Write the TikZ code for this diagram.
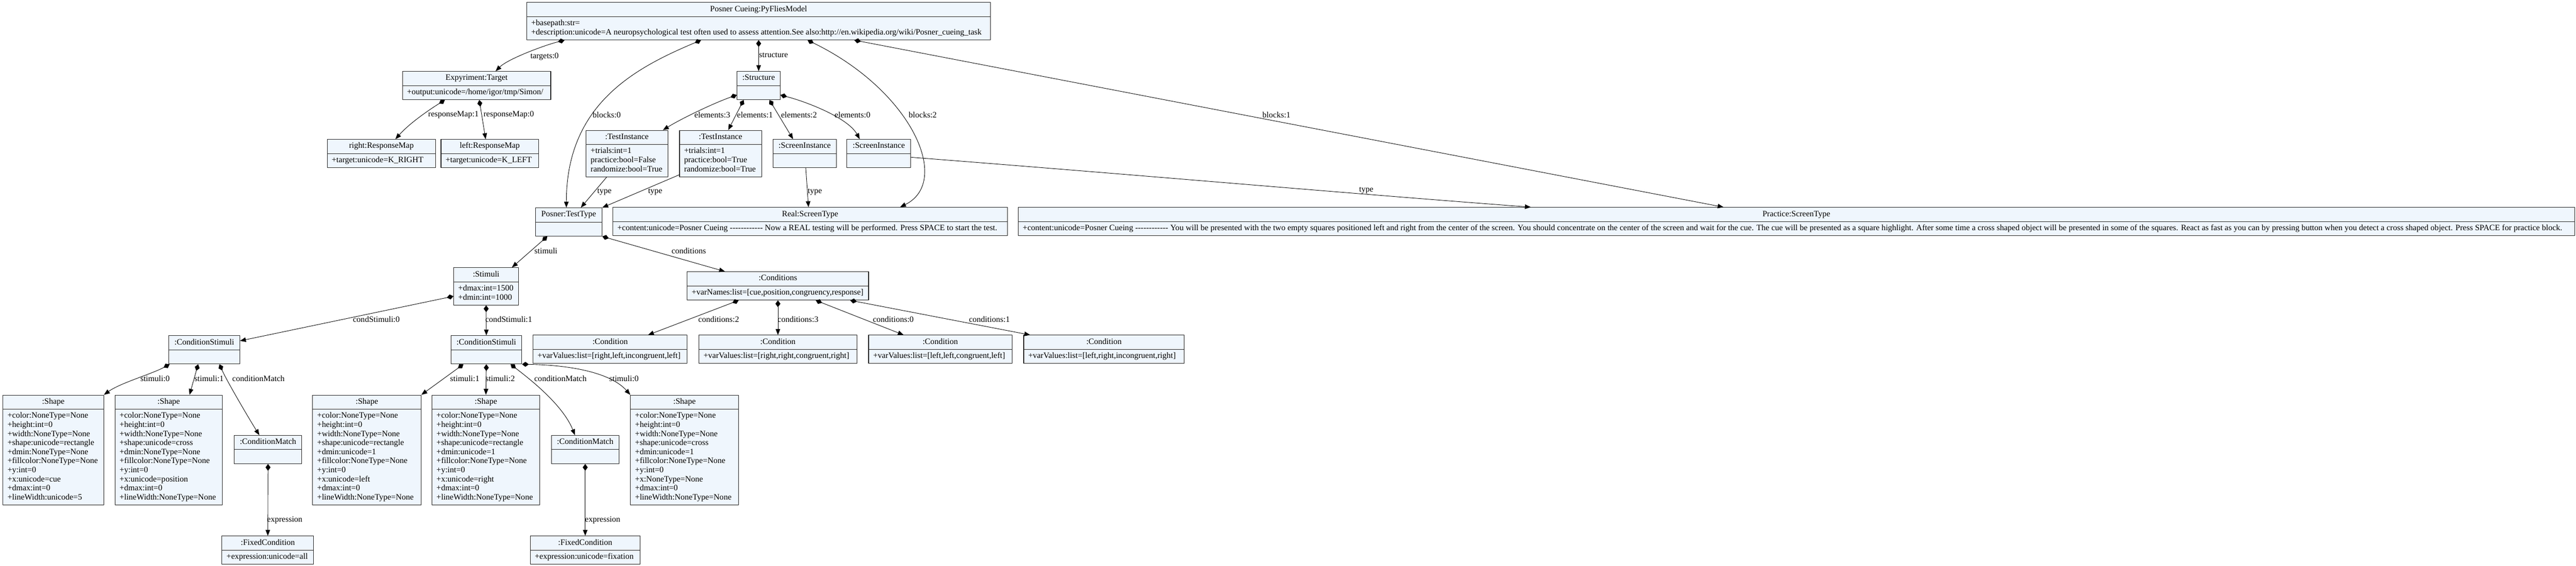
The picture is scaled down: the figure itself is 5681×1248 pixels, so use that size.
\documentclass[tikz,border=0pt]{standalone}
\usepackage{fontspec}
\setmainfont{Liberation Serif}
\usetikzlibrary{arrows.meta,shapes.multipart}
\definecolor{objfill}{HTML}{EFF6FD}
\definecolor{objline}{HTML}{222222}
\newcommand\dashrow{-{}-{}-{}-{}-{}-{}-{}-{}-{}-{}-{}-}
\tikzset{
  umlobj/.style={rectangle split, rectangle split parts=2,
    rectangle split ignore empty parts=false,
    rectangle split part align={center,left},
    draw=objline, fill=objfill, line width=1.2pt,
    inner xsep=10pt, inner ysep=5pt, align=left, anchor=north west},
  comp/.style={arrows={{Diamond[length=15pt,width=11pt]}->}},
  lbl/.style={inner sep=0pt},
}
\begin{document}
\begin{tikzpicture}[x=1pt,y=-1pt,>={Triangle[length=13pt,width=10pt]},line join=bevel,
  line width=1pt,font=\fontsize{18.2}{20}\selectfont]
\useasboundingbox (0,0) rectangle (5681,1248);
%%
  % Node: posner
  \node[umlobj,minimum width=1023pt] (posner) at (1161,5) {\strut Posner Cueing:PyFliesModel
    \nodepart{two}\strut+basepath:str=\\
    \strut+description:unicode=A neuropsychological test often used to assess attention.See also:http://en.wikipedia.org/wiki/Posner\_cueing\_task};
  % Node: target
  \node[umlobj,minimum width=327pt] (target) at (887,157) {\strut Expyriment:Target
    \nodepart{two}\strut+output:unicode=/home/igor/tmp/Simon/};
  % Node: rightmap
  \node[umlobj,minimum width=239pt] (rightmap) at (721,307) {\strut right:ResponseMap
    \nodepart{two}\strut+target:unicode=K\_RIGHT};
  % Node: leftmap
  \node[umlobj,minimum width=215pt] (leftmap) at (972,307) {\strut left:ResponseMap
    \nodepart{two}\strut+target:unicode=K\_LEFT};
  % Node: structure
  \node[umlobj,minimum width=95pt] (structure) at (1625,157) {\strut :Structure
    \nodepart{two}\strut};
  % Node: testinst1
  \node[umlobj,minimum width=180pt] (testinst1) at (1292,287) {\strut :TestInstance
    \nodepart{two}\strut+trials:int=1\\
    \strut practice:bool=False\\
    \strut randomize:bool=True};
  % Node: testinst2
  \node[umlobj,minimum width=181pt] (testinst2) at (1498,287) {\strut :TestInstance
    \nodepart{two}\strut+trials:int=1\\
    \strut practice:bool=True\\
    \strut randomize:bool=True};
  % Node: screeninst1
  \node[umlobj,minimum width=140pt] (screeninst1) at (1704,307) {\strut :ScreenInstance
    \nodepart{two}\strut};
  % Node: screeninst2
  \node[umlobj,minimum width=141pt] (screeninst2) at (1867,307) {\strut :ScreenInstance
    \nodepart{two}\strut};
  % Node: testtype
  \node[umlobj,minimum width=147pt] (testtype) at (1180,458) {\strut Posner:TestType
    \nodepart{two}\strut};
  % Node: realscreen
  \node[umlobj,minimum width=870pt] (realscreen) at (1351,457) {\strut Real:ScreenType
    \nodepart{two}\strut+content:unicode=Posner Cueing \dashrow{} Now a REAL testing will be performed. Press SPACE to start the test.};
  % Node: practicescreen
  \node[umlobj,minimum width=3432pt] (practicescreen) at (2245,457) {\strut Practice:ScreenType
    \nodepart{two}\strut+content:unicode=Posner Cueing \dashrow{} You will be presented with the two empty squares positioned left and right from the center of the screen. You should concentrate on the center of the screen and wait for the cue. The cue will be presented as a square highlight. After some time a cross shaped object will be presented in some of the squares. React as fast as you can by pressing button when you detect a cross shaped object. Press SPACE for practice block.};
  % Node: stimuli
  \node[umlobj,minimum width=143pt] (stimuli) at (1000,590) {\strut :Stimuli
    \nodepart{two}\strut+dmax:int=1500\\
    \strut+dmin:int=1000};
  % Node: conditions
  \node[umlobj,minimum width=400pt] (conditions) at (1515,599) {\strut :Conditions
    \nodepart{two}\strut+varNames:list=[cue,position,congruency,response]};
  % Node: condstim1
  \node[umlobj,minimum width=156pt] (condstim1) at (372,740) {\strut :ConditionStimuli
    \nodepart{two}\strut};
  % Node: condstim2
  \node[umlobj,minimum width=156pt] (condstim2) at (994,740) {\strut :ConditionStimuli
    \nodepart{two}\strut};
  % Node: cond1
  \node[umlobj,minimum width=340pt] (cond1) at (1175,739) {\strut :Condition
    \nodepart{two}\strut+varValues:list=[right,left,incongruent,left]};
  % Node: cond2
  \node[umlobj,minimum width=348pt] (cond2) at (1541,739) {\strut :Condition
    \nodepart{two}\strut+varValues:list=[right,right,congruent,right]};
  % Node: cond3
  \node[umlobj,minimum width=316pt] (cond3) at (1915,739) {\strut :Condition
    \nodepart{two}\strut+varValues:list=[left,left,congruent,left]};
  % Node: cond4
  \node[umlobj,minimum width=354pt] (cond4) at (2257,739) {\strut :Condition
    \nodepart{two}\strut+varValues:list=[left,right,incongruent,right]};
  % Node: shape1
  \node[umlobj,minimum width=222pt] (shape1) at (6,871) {\strut :Shape
    \nodepart{two}\strut+color:NoneType=None\\ \strut+height:int=0\\ \strut+width:NoneType=None\\
    \strut+shape:unicode=rectangle\\ \strut+dmin:NoneType=None\\ \strut+fillcolor:NoneType=None\\
    \strut+y:int=0\\ \strut+x:unicode=cue\\ \strut+dmax:int=0\\ \strut+lineWidth:unicode=5};
  % Node: shape2
  \node[umlobj,minimum width=237pt] (shape2) at (253,871) {\strut :Shape
    \nodepart{two}\strut+color:NoneType=None\\ \strut+height:int=0\\ \strut+width:NoneType=None\\
    \strut+shape:unicode=cross\\ \strut+dmin:NoneType=None\\ \strut+fillcolor:NoneType=None\\
    \strut+y:int=0\\ \strut+x:unicode=position\\ \strut+dmax:int=0\\ \strut+lineWidth:NoneType=None};
  % Node: shape3
  \node[umlobj,minimum width=239pt] (shape3) at (689,871) {\strut :Shape
    \nodepart{two}\strut+color:NoneType=None\\ \strut+height:int=0\\ \strut+width:NoneType=None\\
    \strut+shape:unicode=rectangle\\ \strut+dmin:unicode=1\\ \strut+fillcolor:NoneType=None\\
    \strut+y:int=0\\ \strut+x:unicode=left\\ \strut+dmax:int=0\\ \strut+lineWidth:NoneType=None};
  % Node: shape4
  \node[umlobj,minimum width=238pt] (shape4) at (952,871) {\strut :Shape
    \nodepart{two}\strut+color:NoneType=None\\ \strut+height:int=0\\ \strut+width:NoneType=None\\
    \strut+shape:unicode=rectangle\\ \strut+dmin:unicode=1\\ \strut+fillcolor:NoneType=None\\
    \strut+y:int=0\\ \strut+x:unicode=right\\ \strut+dmax:int=0\\ \strut+lineWidth:NoneType=None};
  % Node: shape5
  \node[umlobj,minimum width=238pt] (shape5) at (1390,871) {\strut :Shape
    \nodepart{two}\strut+color:NoneType=None\\ \strut+height:int=0\\ \strut+width:NoneType=None\\
    \strut+shape:unicode=cross\\ \strut+dmin:unicode=1\\ \strut+fillcolor:NoneType=None\\
    \strut+y:int=0\\ \strut+x:NoneType=None\\ \strut+dmax:int=0\\ \strut+lineWidth:NoneType=None};
  % Node: condmatch1
  \node[umlobj,minimum width=149pt] (condmatch1) at (516,960) {\strut :ConditionMatch
    \nodepart{two}\strut};
  % Node: condmatch2
  \node[umlobj,minimum width=148pt] (condmatch2) at (1216,960) {\strut :ConditionMatch
    \nodepart{two}\strut};
  % Node: fixedcond1
  \node[umlobj,minimum width=202pt] (fixedcond1) at (489,1182) {\strut :FixedCondition
    \nodepart{two}\strut+expression:unicode=all};
  % Node: fixedcond2
  \node[umlobj,minimum width=242pt] (fixedcond2) at (1169,1182) {\strut :FixedCondition
    \nodepart{two}\strut+expression:unicode=fixation};
%%
  % Edge: posner -> target
  \draw[comp] ([xshift=84pt]posner.south west) .. controls (1200,100) and (1120,130) .. ([xshift=206pt]target.north west);
  \node[lbl] (targetslbl) at (1201,125) {targets:0};
  % Edge: target -> rightmap
  \draw[comp] ([xshift=94pt]target.south west) .. controls (950,240) and (905,270) .. ([xshift=151pt]rightmap.north west);
  \node[lbl] (rmap1lbl) at (1000,253) {responseMap:1};
  % Edge: target -> leftmap
  \draw[comp] ([xshift=170pt]target.south west) -- ([xshift=99pt]leftmap.north west);
  \node[lbl] (rmap0lbl) at (1122,253) {responseMap:0};
  % Edge: posner -> structure
  \draw[comp] (posner.south) -- (structure.north);
  \node[lbl] (structlbl) at (1706,122) {structure};
  % Edge: posner -> testtype
  \draw[comp] ([xshift=385pt]posner.south west) .. controls (1400,150) and (1249,230) .. ([xshift=69pt]testtype.north west);
  \node[lbl] (blocks0lbl) at (1338,253) {blocks:0};
  % Edge: posner -> realscreen
  \draw[comp] ([xshift=620pt]posner.south west) .. controls (2010,200) and (2100,400) .. ([xshift=634pt]realscreen.north west);
  \node[lbl] (blocks2lbl) at (2035,253) {blocks:2};
  % Edge: posner -> practicescreen
  \draw[comp] ([xshift=723pt]posner.south west) -- ([xshift=1556pt]practicescreen.north west);
  \node[lbl] (blocks1lbl) at (2815,253) {blocks:1};
  % Edge: structure -> testinst1
  \draw[comp] ([yshift=11pt]structure.south west) .. controls (1575,227) and (1502,262) .. ([xshift=170pt]testinst1.north west);
  \node[lbl] (elem3lbl) at (1571,253) {elements:3};
  % Edge: structure -> testinst2
  \draw[comp] ([xshift=15pt]structure.south west) -- ([xshift=108pt]testinst2.north west);
  \node[lbl] (elem1lbl) at (1665,253) {elements:1};
  % Edge: structure -> screeninst1
  \draw[comp] ([xshift=72pt]structure.south west) -- ([xshift=45pt]screeninst1.north west);
  \node[lbl] (elem2lbl) at (1762,253) {elements:2};
  % Edge: structure -> screeninst2
  \draw[comp] ([yshift=11pt]structure.south east) .. controls (1780,225) and (1870,260) .. ([xshift=29pt]screeninst2.north west);
  \node[lbl] (elem0lbl) at (1880,253) {elements:0};
  % Edge: testinst1 -> testtype
  \draw[->] ([xshift=46pt]testinst1.south west) -- ([xshift=101pt]testtype.north west);
  \node[lbl] (type1lbl) at (1333,423) {type};
  % Edge: testinst2 -> testtype
  \draw[->] ([yshift=5pt]testinst2.south west) -- (testtype.north east);
  \node[lbl] (type2lbl) at (1445,423) {type};
  % Edge: screeninst1 -> realscreen
  \draw[->] ([xshift=73pt]screeninst1.south west) -- ([xshift=432pt]realscreen.north west);
  \node[lbl] (type3lbl) at (1797,423) {type};
  % Edge: screeninst2 -> practicescreen
  \draw[->] ([yshift=-40pt]screeninst2.north east) .. controls (2500,385) and (2950,425) .. ([xshift=1131pt]practicescreen.north west);
  \node[lbl] (type4lbl) at (3013,420) {type};
  % Edge: testtype -> stimuli
  \draw[comp] ([xshift=27pt]testtype.south west) -- ([xshift=129pt]stimuli.north west);
  \node[lbl] (stimlbl) at (1204,553) {stimuli};
  % Edge: testtype -> conditions
  \draw[comp] (testtype.south east) -- ([xshift=84pt]conditions.north west);
  \node[lbl] (condslbl) at (1519,553) {conditions};
  % Edge: stimuli -> condstim1
  \draw[comp] ([yshift=20pt]stimuli.south west) -- ([yshift=-12pt]condstim1.north east);
  \node[lbl] (cstim0lbl) at (830,704) {condStimuli:0};
  % Edge: stimuli -> condstim2
  \draw[comp] (stimuli.south) -- (condstim2.north);
  \node[lbl] (cstim1lbl) at (1122,704) {condStimuli:1};
  % Edge: conditions -> cond1
  \draw[comp] ([xshift=114pt]conditions.south west) -- ([xshift=254pt]cond1.north west);
  \node[lbl] (cond2lbl) at (1585,704) {conditions:2};
  % Edge: conditions -> cond2
  \draw[comp] (conditions.south) -- (cond2.north);
  \node[lbl] (cond3lbl) at (1760,704) {conditions:3};
  % Edge: conditions -> cond3
  \draw[comp] ([xshift=284pt]conditions.south west) -- ([xshift=78pt]cond3.north west);
  \node[lbl] (cond0lbl) at (1970,704) {conditions:0};
  % Edge: conditions -> cond4
  \draw[comp] ([xshift=360pt]conditions.south west) -- ([xshift=15pt]cond4.north west);
  \node[lbl] (cond1lbl) at (2182,704) {conditions:1};
  % Edge: condstim1 -> shape1
  \draw[comp] ([xshift=2pt]condstim1.south west) .. controls (335,825) and (265,845) .. (shape1.north east);
  \node[lbl] (s10lbl) at (342,835) {stimuli:0};
  % Edge: condstim1 -> shape2
  \draw[comp] ([xshift=65pt]condstim1.south west) -- ([xshift=165pt]shape2.north west);
  \node[lbl] (s11lbl) at (461,835) {stimuli:1};
  % Edge: condstim1 -> condmatch1
  \draw[comp] ([xshift=112pt]condstim1.south west) .. controls (500,840) and (550,925) .. ([xshift=56pt]condmatch1.north west);
  \node[lbl] (cm1lbl) at (570,835) {conditionMatch};
  % Edge: condmatch1 -> fixedcond1
  \draw[comp] (condmatch1.south) -- (fixedcond1.north);
  \node[lbl] (expr1lbl) at (628,1147) {expression};
  % Edge: condstim2 -> shape3
  \draw[comp] ([xshift=28pt]condstim2.south west) -- (shape3.north east);
  \node[lbl] (s21lbl) at (1025,835) {stimuli:1};
  % Edge: condstim2 -> shape4
  \draw[comp] (condstim2.south) -- (shape4.north);
  \node[lbl] (s22lbl) at (1103,835) {stimuli:2};
  % Edge: condstim2 -> condmatch2
  \draw[comp] ([xshift=132pt]condstim2.south west) .. controls (1160,830) and (1240,890) .. ([xshift=52pt]condmatch2.north west);
  \node[lbl] (cm2lbl) at (1236,835) {conditionMatch};
  % Edge: condstim2 -> shape5
  \draw[comp] (condstim2.south east) .. controls (1250,805) and (1345,820) .. (shape5.north west);
  \node[lbl] (s20lbl) at (1376,835) {stimuli:0};
  % Edge: condmatch2 -> fixedcond2
  \draw[comp] (condmatch2.south) -- (fixedcond2.north);
  \node[lbl] (expr2lbl) at (1329,1147) {expression};
%
\end{tikzpicture}
\end{document}
